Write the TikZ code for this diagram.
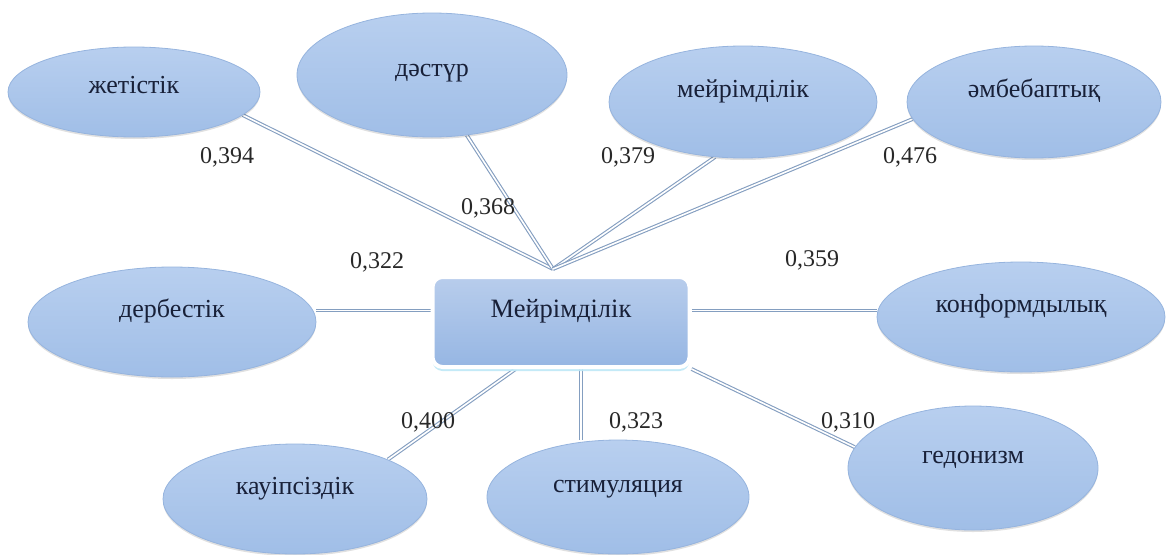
\documentclass[tikz,border=0pt]{standalone}
\usepackage{fontspec}
\setmainfont{Liberation Serif}
\usetikzlibrary{shapes.geometric,shadows,backgrounds}
\definecolor{ellTop}{RGB}{184,207,239}
\definecolor{ellBot}{RGB}{160,190,231}
\definecolor{ellEdge}{RGB}{150,180,222}
\definecolor{txt}{RGB}{24,32,56}
\definecolor{numc}{RGB}{40,40,40}
\definecolor{linkc}{RGB}{132,158,192}
\definecolor{boxTop}{RGB}{184,205,236}
\definecolor{boxBot}{RGB}{150,182,227}
\definecolor{glow}{RGB}{190,232,246}
\begin{document}
\begin{tikzpicture}[x=1pt,y=-1pt,
  ell/.style={ellipse, inner sep=0pt, top color=ellTop, bottom color=ellBot,
    draw=ellEdge, line width=0.8pt, text=txt,
    font=\fontsize{26}{30}\selectfont, text height=10pt, text depth=20pt,
    drop shadow={shadow xshift=0pt, shadow yshift=-2pt, fill=black, opacity=0.12}},
  hubbox/.style={rectangle, rounded corners=10pt, inner sep=0pt,
    top color=boxTop, bottom color=boxBot, draw=white, line width=4pt,
    text=txt, font=\fontsize{26.5}{30}\selectfont, text height=10pt, text depth=20pt,
    drop shadow={shadow xshift=0pt, shadow yshift=-4pt, fill=glow, opacity=0.9}},
  link/.style={draw=linkc, double=white, double distance=1.6pt, line width=1.1pt},
  num/.style={inner sep=0pt, text=numc, font=\fontsize{24}{28}\selectfont}]
\useasboundingbox (0,0) rectangle (1166,554);

\node[ell, minimum width=252pt, minimum height=90pt, text depth=8pt]  (e1) at (134,92)  {жетістік};
\node[ell, minimum width=270pt, minimum height=124pt, text depth=8pt] (e2) at (432,75)  {дәстүр};
\node[ell, minimum width=268pt, minimum height=112pt] (e3) at (743,102) {мейрімділік};
\node[ell, minimum width=254pt, minimum height=112pt] (e4) at (1034,102) {әмбебаптық};
\node[ell, minimum width=288pt, minimum height=110pt] (e5) at (172,322) {дербестік};
\node[ell, minimum width=264pt, minimum height=110pt] (e6) at (295,499) {кауіпсіздік};
\node[ell, minimum width=262pt, minimum height=114pt] (e7) at (618,497) {стимуляция};
\node[ell, minimum width=250pt, minimum height=124pt] (e8) at (973,468) {гедонизм};
\node[ell, minimum width=288pt, minimum height=110pt] (e9) at (1021,317) {конформдылық};

\node[hubbox, minimum width=257pt, minimum height=90pt] (box) at (561,322) {Мейрімділік};

\coordinate (hub) at (553,269);

\begin{pgfonlayer}{background}
\draw[link] (e1.-12) -- (hub);
\draw[link] (e2.-60) -- (hub);
\draw[link] (e3.-117) -- (hub);
\draw[link] (e4.-172) -- (hub);
\draw[link] (box.175) -- (box.175 -| e5.east);
\draw[link] (box.5) -- (box.5 -| e9.west);
\draw[link] (e6.23) -- (box.-134);
\draw[link] (box.-67) -- (box.-67 |- e7.north);
\draw[link] (box.south east) -- (e8.170);
\end{pgfonlayer}

\node[num] (n1) at (227,157) {0,394};
\node[num] (n2) at (488,208) {0,368};
\node[num] (n3) at (628,157) {0,379};
\node[num] (n4) at (910,157) {0,476};
\node[num] (n5) at (377,262) {0,322};
\node[num] (n6) at (812,260) {0,359};
\node[num] (n7) at (428,422) {0,400};
\node[num] (n8) at (636,422) {0,323};
\node[num] (n9) at (848,422) {0,310};
\end{tikzpicture}
\end{document}
